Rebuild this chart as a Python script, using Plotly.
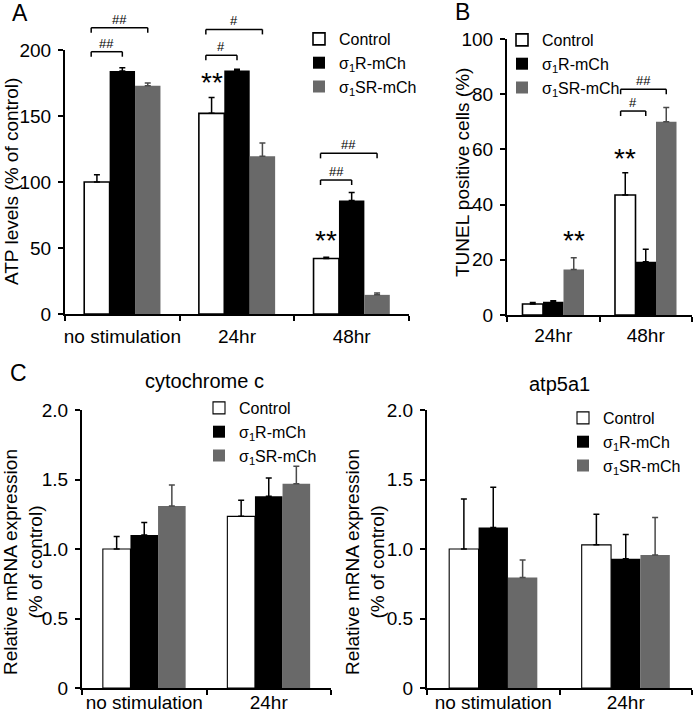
import plotly.graph_objects as go

FONT = "Liberation Sans, Arial, sans-serif"
W, H = 693, 713

# ---------------- data ----------------
series_names = ["Control", "σ<sub>1</sub>R-mCh", "σ<sub>1</sub>SR-mCh"]

a_cats = ["no stimulation", "24hr", "48hr"]
a_control = [100, 152, 42]
a_control_err = [5.5, 12, 1]
a_s1r = [184, 184.5, 86]
a_s1r_err = [2.5, 1, 6]
a_s1sr = [173, 119.5, 14.5]
a_s1sr_err = [2, 10, 1.5]

b_cats = ["24hr", "48hr"]
b_control = [4.0, 43.5]
b_control_err = [0.5, 8]
b_s1r = [4.8, 19.3]
b_s1r_err = [0.4, 4.5]
b_s1sr = [16.5, 70]
b_s1sr_err = [4.2, 5.2]

c_cats = ["no stimulation", "24hr"]
cyt_control = [1.0, 1.235]
cyt_control_err = [0.09, 0.115]
cyt_s1r = [1.10, 1.38]
cyt_s1r_err = [0.09, 0.13]
cyt_s1sr = [1.31, 1.47]
cyt_s1sr_err = [0.15, 0.125]

atp_control = [1.0, 1.03]
atp_control_err = [0.36, 0.22]
atp_s1r = [1.155, 0.93]
atp_s1r_err = [0.29, 0.175]
atp_s1sr = [0.795, 0.957]
atp_s1sr_err = [0.125, 0.27]

a_ticks = [0, 50, 100, 150, 200]
b_ticks = [0, 20, 40, 60, 80, 100]
c_ticks = [0, 0.5, 1.0, 1.5, 2.0]
c_ticktext = ["0", "0.5", "1.0", "1.5", "2.0"]

# significance: (category, compared series index, bracket height, label)
a_brackets = [("no stimulation", 1, 198.7, "##"), ("no stimulation", 2, 216.9, "##"),
              ("24hr", 1, 196.0, "#"), ("24hr", 2, 215.6, "#"),
              ("48hr", 1, 101.5, "##"), ("48hr", 2, 121.7, "##")]
a_stars = [("24hr", 0, 177), ("48hr", 0, 57.5)]
b_brackets = [("48hr", 1, 73.9, "#"), ("48hr", 2, 81.8, "##")]
b_stars = [("24hr", 2, 27.8), ("48hr", 0, 57.4)]

# ---------------- style ----------------
fills = ["white", "black", "#696969"]
edge = ["black", "black", "#696969"]
errc = ["black", "black", "#4a4a4a"]
BARGAP = 0.335

# panel pixel geometry: x from..to, y top..bottom
panels = [
    dict(name="A", xs="x", ys="y", lg="legend", px=(65, 409), py=(50, 314), ymax=200,
         cats=a_cats, vals=[a_control, a_s1r, a_s1sr], errs=[a_control_err, a_s1r_err, a_s1sr_err],
         ticks=a_ticks, ticktext=[str(t) for t in a_ticks], lw=1.6, xstand=4,
         brackets=a_brackets, stars=a_stars, legxy=(299, 22)),
    dict(name="B", xs="x2", ys="y2", lg="legend2", px=(507, 692), py=(39, 315), ymax=100,
         cats=b_cats, vals=[b_control, b_s1r, b_s1sr], errs=[b_control_err, b_s1r_err, b_s1sr_err],
         ticks=b_ticks, ticktext=[str(t) for t in b_ticks], lw=1.6, xstand=2,
         brackets=b_brackets, stars=b_stars, legxy=(502, 23)),
    dict(name="C1", xs="x3", ys="y3", lg="legend3", px=(82, 331), py=(410, 688), ymax=2,
         cats=c_cats, vals=[cyt_control, cyt_s1r, cyt_s1sr], errs=[cyt_control_err, cyt_s1r_err, cyt_s1sr_err],
         ticks=c_ticks, ticktext=c_ticktext, lw=1.1, xstand=-4,
         brackets=[], stars=[], legxy=(199, 391)),
    dict(name="C2", xs="x4", ys="y4", lg="legend4", px=(427, 692), py=(410, 688), ymax=2,
         cats=c_cats, vals=[atp_control, atp_s1r, atp_s1sr], errs=[atp_control_err, atp_s1r_err, atp_s1sr_err],
         ticks=c_ticks, ticktext=c_ticktext, lw=1.1, xstand=-4,
         brackets=[], stars=[], legxy=(563, 401)),
]

fig = go.Figure()
layout = dict(
    width=W, height=H, margin=dict(l=0, r=0, t=0, b=0, autoexpand=False),
    paper_bgcolor="white", plot_bgcolor="white",
    font=dict(family=FONT, size=19, color="black"),
    barmode="group", bargap=BARGAP, bargroupgap=0,
)
shapes = []
annotations = []

bw = (1 - BARGAP) / 3  # bar width in category units

for p in panels:
    for k in range(3):
        fig.add_trace(go.Bar(
            x=p["cats"], y=p["vals"][k], name=series_names[k],
            xaxis=p["xs"], yaxis=p["ys"], legend=p["lg"],
            marker=dict(color=fills[k], line=dict(color=edge[k], width=p["lw"] if k == 0 else 0)),
            error_y=dict(type="data", symmetric=False, array=p["errs"][k],
                         arrayminus=[0] * len(p["errs"][k]),
                         color=errc[k], thickness=1.5, width=3),
            hoverinfo="skip",
        ))
    xk = "xaxis" + p["xs"][1:]
    yk = "yaxis" + p["ys"][1:]
    layout[xk] = dict(
        domain=[p["px"][0] / W, p["px"][1] / W], anchor=p["ys"],
        type="category", range=[-0.5, len(p["cats"]) - 0.5],
        showline=True, linewidth=2, linecolor="black",
        ticks="outside", tickson="boundaries", ticklen=5, tickwidth=2, tickcolor="black",
        showgrid=False, zeroline=False, tickfont=dict(size=19), ticklabelstandoff=p["xstand"],
        tickangle=0, automargin=False, fixedrange=True,
    )
    layout[yk] = dict(
        domain=[1 - p["py"][1] / H, 1 - p["py"][0] / H], anchor=p["xs"],
        range=[0, p["ymax"]], tickvals=p["ticks"], ticktext=p["ticktext"],
        showline=True, linewidth=2, linecolor="black",
        ticks="outside", ticklen=5, tickwidth=2, tickcolor="black",
        showgrid=False, zeroline=False, tickfont=dict(size=19), ticklabelstandoff=3,
        automargin=False, fixedrange=True,
    )
    layout[p["lg"]] = dict(
        x=p["legxy"][0] / W, y=1 - p["legxy"][1] / H, xanchor="left", yanchor="top",
        font=dict(size=16), bgcolor="rgba(0,0,0,0)", borderwidth=0,
        tracegroupgap=0, itemwidth=30,
    )
    # significance brackets
    hpx = p["py"][1] - p["py"][0]
    drop = 5 / hpx
    for cat, tgt, yv, lab in p["brackets"]:
        ci = p["cats"].index(cat)
        x0 = ci - bw - 0.05
        x1 = ci + (tgt - 1) * bw
        yd = yv / p["ymax"]
        for (ax0, ay0, ax1, ay1) in [(x0, yd - drop, x0, yd), (x0, yd, x1, yd), (x1, yd, x1, yd - drop)]:
            shapes.append(dict(type="line", xref=p["xs"], yref=p["ys"] + " domain",
                               x0=ax0, y0=ay0, x1=ax1, y1=ay1,
                               line=dict(color="black", width=1.5)))
        annotations.append(dict(xref=p["xs"], yref=p["ys"] + " domain", x=(x0 + x1) / 2, y=yd,
                                text=lab, showarrow=False, xanchor="center", yanchor="bottom",
                                font=dict(size=13), yshift=-1))
    for cat, ser, yv in p["stars"]:
        ci = p["cats"].index(cat)
        annotations.append(dict(xref=p["xs"], yref=p["ys"] + " domain", x=ci + (ser - 1) * bw,
                                y=yv / p["ymax"], text="**", showarrow=False,
                                xanchor="center", yanchor="middle", font=dict(size=28), yshift=-2))

# axis titles (rotated)
ytitles = [("ATP levels (% of control)", 12, 182), ("TUNEL positive cells (%)", 462, 173),
           ("Relative mRNA expression<br>(% of control)", 23, 562),
           ("Relative mRNA expression<br>(% of control)", 365, 562)]
for txt, xp, yp in ytitles:
    annotations.append(dict(xref="paper", yref="paper", x=xp / W, y=1 - yp / H, text=txt,
                            textangle=-90, showarrow=False, xanchor="center", yanchor="middle",
                            font=dict(size=19)))

# panel titles and letters
for txt, xp, yp, fs in [("cytochrome c", 204, 381, 20), ("atp5a1", 559, 384, 20),
                        ("A", 20, 13, 23), ("B", 462, 12, 23), ("C", 18, 373, 23)]:
    annotations.append(dict(xref="paper", yref="paper", x=xp / W, y=1 - yp / H, text=txt,
                            showarrow=False, xanchor="center", yanchor="middle", font=dict(size=fs)))

layout["shapes"] = shapes
layout["annotations"] = annotations
fig.update_layout(**layout)
fig.write_html("out.html", config={"displayModeBar": False},
               post_script="document.body.style.margin='0px';")
